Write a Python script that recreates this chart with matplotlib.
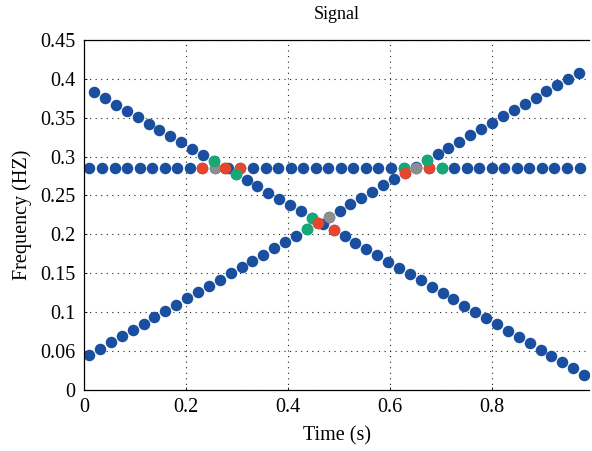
import matplotlib.pyplot as plt

plt.rcParams['font.family'] = ['Liberation Serif', 'DejaVu Serif']

# horizontal component (constant frequency)
t_flat = [0.010, 0.035, 0.060, 0.084, 0.109, 0.134, 0.158, 0.183, 0.208, 0.232,
          0.257, 0.282, 0.306, 0.331, 0.356, 0.380, 0.405, 0.430, 0.454, 0.479,
          0.503, 0.528, 0.553, 0.577, 0.602, 0.627, 0.651, 0.676, 0.701, 0.725,
          0.750, 0.775, 0.799, 0.824, 0.849, 0.873, 0.898, 0.922, 0.947, 0.972]
f_flat = [0.286] * len(t_flat)

# rising component
t_up = [0.0098, 0.0312, 0.0525, 0.0739, 0.0952, 0.1166, 0.1379, 0.1593, 0.1806, 0.2020,
        0.2233, 0.2447, 0.2660, 0.2874, 0.3087, 0.3301, 0.3514, 0.3728, 0.3941, 0.4155,
        0.4368, 0.4582, 0.4795, 0.5009, 0.5222, 0.5436, 0.5649, 0.5863, 0.6076, 0.6290,
        0.6503, 0.6717, 0.6930, 0.7144, 0.7357, 0.7571, 0.7784, 0.7998, 0.8211, 0.8425,
        0.8638, 0.8852, 0.9065, 0.9279, 0.9492, 0.9706]
f_up = [0.0447, 0.0528, 0.0609, 0.0689, 0.0770, 0.0851, 0.0932, 0.1013, 0.1093, 0.1174,
        0.1255, 0.1336, 0.1417, 0.1497, 0.1578, 0.1659, 0.1740, 0.1821, 0.1901, 0.1982,
        0.2063, 0.2144, 0.2225, 0.2305, 0.2386, 0.2467, 0.2548, 0.2629, 0.2709, 0.2790,
        0.2871, 0.2952, 0.3033, 0.3113, 0.3194, 0.3275, 0.3356, 0.3437, 0.3517, 0.3598,
        0.3679, 0.3760, 0.3841, 0.3921, 0.4002, 0.4083]

# falling component
t_down = [0.0196, 0.0410, 0.0623, 0.0837, 0.1050, 0.1264, 0.1477, 0.1691, 0.1904, 0.2118,
          0.2331, 0.2545, 0.2758, 0.2972, 0.3185, 0.3399, 0.3612, 0.3826, 0.4039, 0.4253,
          0.4466, 0.4680, 0.4893, 0.5107, 0.5320, 0.5534, 0.5747, 0.5961, 0.6174, 0.6388,
          0.6601, 0.6815, 0.7028, 0.7242, 0.7455, 0.7669, 0.7882, 0.8096, 0.8309, 0.8523,
          0.8736, 0.8950, 0.9163, 0.9377, 0.9590, 0.9804]
f_down = [0.3830, 0.3749, 0.3668, 0.3588, 0.3507, 0.3426, 0.3345, 0.3264, 0.3184, 0.3103,
          0.3022, 0.2941, 0.2860, 0.2780, 0.2699, 0.2618, 0.2537, 0.2456, 0.2376, 0.2295,
          0.2214, 0.2133, 0.2052, 0.1972, 0.1891, 0.1810, 0.1729, 0.1648, 0.1568, 0.1487,
          0.1406, 0.1325, 0.1244, 0.1164, 0.1083, 0.1002, 0.0921, 0.0840, 0.0760, 0.0679,
          0.0598, 0.0517, 0.0436, 0.0356, 0.0275, 0.0194]

# coloured points near the crossings
t_mark = [0.232, 0.257, 0.306, 0.627, 0.651, 0.676, 0.701,
          0.2545, 0.2758, 0.2972, 0.4466, 0.4893,
          0.4368, 0.4582, 0.4795, 0.6290, 0.6717]
f_mark = [0.286, 0.286, 0.286, 0.286, 0.286, 0.286, 0.286,
          0.2941, 0.2860, 0.2780, 0.2214, 0.2052,
          0.2063, 0.2144, 0.2225, 0.2790, 0.2952]
c_mark = ['red', 'gray', 'red', 'green', 'gray', 'red', 'green',
          'green', 'red', 'green', 'green', 'red',
          'green', 'red', 'gray', 'red', 'green']

colores = {'red': '#e8462c', 'gray': '#8e8e8e', 'green': '#16a974'}
azul = '#1a4e9f'

fig = plt.figure(figsize=(5.92, 4.51), dpi=100)
ax = fig.add_axes([0.142, 0.136, 0.853, 0.775])

ms = 8.3
ax.plot(t_flat, f_flat, 'o', color=azul, markersize=ms, markeredgewidth=0)
ax.plot(t_up, f_up, 'o', color=azul, markersize=ms, markeredgewidth=0)
ax.plot(t_down, f_down, 'o', color=azul, markersize=ms, markeredgewidth=0)
for t, f, c in zip(t_mark, f_mark, c_mark):
    ax.plot(t, f, 'o', color=colores[c], markersize=ms, markeredgewidth=0)

ax.set_xlim(0, 0.99)
ax.set_ylim(0, 0.45)
ax.set_xticks([0, 0.2, 0.4, 0.6, 0.8])
ax.set_xticklabels(['0', '0.2', '0.4', '0.6', '0.8'])
ax.set_yticks([0, 0.05, 0.1, 0.15, 0.2, 0.25, 0.3, 0.35, 0.4, 0.45])
ax.set_yticklabels(['0', '0.06', '0.1', '0.15', '0.2', '0.25', '0.3', '0.35', '0.4', '0.45'])
ax.tick_params(direction='in', length=2, labelsize=14.5, width=0.6, pad=6)

ax.grid(True, linestyle=(0, (1, 4)), color='#222222', linewidth=0.8)
ax.set_axisbelow(True)
ax.spines['right'].set_visible(False)
for s in ['left', 'bottom', 'top']:
    ax.spines[s].set_linewidth(0.9)

ax.set_xlabel('Time (s)', fontsize=14.5, labelpad=7)
ax.set_ylabel('Frequency (HZ)', fontsize=14.5, labelpad=6)
ax.set_title('Signal', fontsize=13, pad=15)

plt.savefig('out.png', dpi=100)
